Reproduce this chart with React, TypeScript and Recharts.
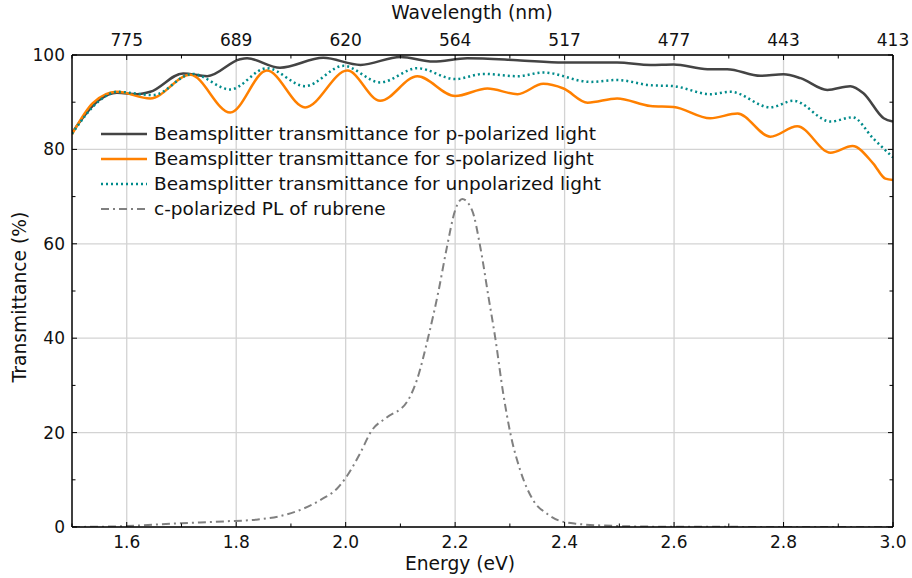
import React from 'react';
import { LineChart, Line, XAxis, YAxis, CartesianGrid, Legend } from 'recharts';

// Beamsplitter transmittance, p-polarized (energy in eV, transmittance in %)
const pEnergy = [1.5, 1.549, 1.582, 1.619, 1.643, 1.703, 1.747, 1.807, 1.82, 1.88, 1.959, 2.027, 2.1, 2.16, 2.222, 2.314, 2.398, 2.496, 2.557, 2.599, 2.661, 2.697, 2.758, 2.8, 2.831, 2.88, 2.922, 2.946, 2.983, 3.0];
const pValues = [83.5, 90.4, 92.0, 91.7, 92.2, 96.1, 95.5, 99.1, 99.3, 97.3, 99.4, 97.9, 99.6, 98.6, 99.3, 98.9, 98.4, 98.4, 97.9, 98.0, 97.0, 97.0, 95.6, 95.9, 95.1, 92.6, 93.4, 91.9, 86.6, 85.9];

// s-polarized
const sEnergy = [1.5, 1.538, 1.582, 1.643, 1.716, 1.789, 1.856, 1.926, 2.003, 2.063, 2.131, 2.2, 2.259, 2.314, 2.361, 2.398, 2.442, 2.496, 2.557, 2.599, 2.666, 2.716, 2.776, 2.825, 2.886, 2.926, 2.964, 2.986, 3.0];
const sValues = [83.2, 89.8, 92.2, 90.8, 95.8, 87.8, 96.7, 88.9, 96.7, 90.3, 95.5, 91.3, 92.9, 91.7, 93.9, 92.9, 89.9, 90.8, 89.2, 89.0, 86.6, 87.6, 82.7, 84.9, 79.3, 80.7, 77.0, 73.8, 73.5];

// unpolarized
const uEnergy = [1.5, 1.549, 1.582, 1.648, 1.72, 1.789, 1.856, 1.926, 1.996, 2.063, 2.131, 2.2, 2.252, 2.314, 2.361, 2.447, 2.496, 2.557, 2.599, 2.666, 2.703, 2.776, 2.818, 2.886, 2.926, 2.964, 3.0];
const uValues = [83.3, 90.2, 92.2, 91.5, 96.0, 92.7, 97.2, 93.4, 97.7, 94.2, 97.2, 94.9, 96.0, 95.5, 96.3, 94.3, 94.7, 93.6, 93.4, 91.7, 92.2, 88.9, 90.3, 85.9, 86.8, 82.3, 78.3];

// c-polarized PL of rubrene
const plEnergy = [1.5, 1.6, 1.7, 1.78, 1.84, 1.88, 1.923, 1.955, 1.984, 2.0, 2.025, 2.048, 2.075, 2.112, 2.13, 2.151, 2.17, 2.185, 2.2, 2.213, 2.231, 2.246, 2.261, 2.273, 2.288, 2.301, 2.319, 2.343, 2.368, 2.389, 2.42, 2.5, 2.6, 3.0];
const plValues = [0.0, 0.2, 0.8, 1.2, 1.6, 2.3, 3.9, 5.8, 8.1, 10.4, 15.3, 20.5, 23.2, 26.5, 31.1, 40.3, 50.2, 59.3, 67.1, 69.5, 67.1, 59.3, 48.7, 40.3, 28.2, 19.8, 12.0, 5.6, 2.8, 1.4, 0.7, 0.2, 0.05, 0.0];

const energyTicks = [1.5, 1.6, 1.7, 1.8, 1.9, 2.0, 2.1, 2.2, 2.3, 2.4, 2.5, 2.6, 2.7, 2.8, 2.9, 3.0];
const energyLabelTicks = [1.6, 1.8, 2.0, 2.2, 2.4, 2.6, 2.8, 3.0];
const wavelengthLabels = ['775', '689', '620', '564', '517', '477', '443', '413'];
const transTicks = [0, 10, 20, 30, 40, 50, 60, 70, 80, 90, 100];
const transLabelTicks = [0, 20, 40, 60, 80, 100];

const zip = (xs: number[], ys: number[]) => xs.map((e, i) => ({ e, t: ys[i] }));

const series = [
  { name: 'Beamsplitter transmittance for p-polarized light', data: zip(pEnergy, pValues), color: '#444444', dash: undefined, width: 2.5 },
  { name: 'Beamsplitter transmittance for s-polarized light', data: zip(sEnergy, sValues), color: '#ff8000', dash: undefined, width: 2.5 },
  { name: 'Beamsplitter transmittance for unpolarized light', data: zip(uEnergy, uValues), color: '#008b8b', dash: '2 3', width: 2.5 },
  { name: 'c-polarized PL of rubrene', data: zip(plEnergy, plValues), color: '#808080', dash: '8 4 2 4', width: 2 },
];

const W = 912;
const H = 578;
const margin = { top: 25, right: 18, bottom: 21, left: 32 };
const AXIS_H = 30;
const AXIS_W = 40;
const PLOT_W = W - margin.left - margin.right - AXIS_W - 1;
const PLOT_H = H - margin.top - margin.bottom - 2 * AXIS_H;
const FONT = '"DejaVu Sans", Verdana, sans-serif';

const isMajor = (v: number, list: number[]) => list.some((m) => Math.abs(m - v) < 1e-6);

// bottom energy axis: inward ticks on bottom and top spines, labels on majors
const EnergyTick = (props: any) => {
  const { x, y, payload } = props;
  const v = payload.value as number;
  const major = isMajor(v, energyLabelTicks);
  const len = major ? 5 : 3.5;
  return (
    <g>
      <line x1={x} x2={x} y1={y} y2={y - len} stroke="#000" strokeWidth={1} />
      <line x1={x} x2={x} y1={y - PLOT_H} y2={y - PLOT_H + len} stroke="#000" strokeWidth={1} />
      {major && (
        <text x={x} y={y + 21} textAnchor="middle" fontSize={17} fontFamily={FONT} fill="#111">
          {v.toFixed(1)}
        </text>
      )}
    </g>
  );
};

const WavelengthTick = (props: any) => {
  const { x, y, payload } = props;
  const idx = energyLabelTicks.findIndex((m) => Math.abs(m - payload.value) < 1e-6);
  if (idx < 0) return null;
  return (
    <text x={x} y={y - 9} textAnchor="middle" fontSize={17} fontFamily={FONT} fill="#111">
      {wavelengthLabels[idx]}
    </text>
  );
};

// left transmittance axis: inward ticks on left and right spines
const TransTick = (props: any) => {
  const { x, y, payload } = props;
  const v = payload.value as number;
  const major = isMajor(v, transLabelTicks);
  const len = major ? 5 : 3.5;
  return (
    <g>
      <line x1={x} x2={x + len} y1={y} y2={y} stroke="#000" strokeWidth={1} />
      <line x1={x + PLOT_W} x2={x + PLOT_W - len} y1={y} y2={y} stroke="#000" strokeWidth={1} />
      {major && (
        <text x={x - 7} y={y + 6} textAnchor="end" fontSize={17} fontFamily={FONT} fill="#111">
          {v}
        </text>
      )}
    </g>
  );
};

const LegendBox = () => (
  <div style={{ fontFamily: FONT, fontSize: 18.5, color: '#111', lineHeight: '25px' }}>
    {series.map((s) => (
      <div key={s.name} style={{ display: 'flex', alignItems: 'center', whiteSpace: 'nowrap' }}>
        <svg width={46} height={10} style={{ marginRight: 7 }}>
          <line x1={0} x2={46} y1={5} y2={5} stroke={s.color} strokeWidth={s.width} strokeDasharray={s.dash} />
        </svg>
        <span>{s.name}</span>
      </div>
    ))}
  </div>
);

const titleStyle: React.CSSProperties = {
  position: 'absolute',
  fontFamily: FONT,
  fontSize: 18.7,
  color: '#111',
  whiteSpace: 'nowrap',
  transform: 'translate(-50%, -50%)',
};

const App = () => {
  return (
    <div style={{ position: 'absolute', left: 0, top: 0, width: W, height: H, background: '#fff' }}>
      <LineChart width={W} height={H} margin={margin}>
        <CartesianGrid
          stroke="#d3d3d3"
          strokeWidth={1.3}
          verticalValues={energyLabelTicks}
          horizontalValues={transLabelTicks}
        />
        <XAxis
          dataKey="e"
          type="number"
          domain={[1.5, 3.0]}
          allowDataOverflow
          ticks={energyTicks}
          interval={0}
          height={AXIS_H}
          tickSize={0}
          tickMargin={0}
          tickLine={false}
          tick={<EnergyTick />}
          axisLine={{ stroke: '#000', strokeWidth: 1.5 }}
        />
        <XAxis
          xAxisId="top"
          orientation="top"
          dataKey="e"
          type="number"
          domain={[1.5, 3.0]}
          allowDataOverflow
          ticks={energyLabelTicks}
          interval={0}
          height={AXIS_H}
          tickSize={0}
          tickMargin={0}
          tickLine={false}
          tick={<WavelengthTick />}
          axisLine={{ stroke: '#000', strokeWidth: 1.5 }}
        />
        <YAxis
          type="number"
          domain={[0, 100]}
          allowDataOverflow
          ticks={transTicks}
          interval={0}
          width={AXIS_W}
          tickSize={0}
          tickMargin={0}
          tickLine={false}
          tick={<TransTick />}
          axisLine={{ stroke: '#000', strokeWidth: 1.5 }}
        />
        <YAxis
          yAxisId="right"
          orientation="right"
          type="number"
          domain={[0, 100]}
          width={1}
          tick={false}
          tickLine={false}
          axisLine={{ stroke: '#000', strokeWidth: 1.5 }}
        />
        {series.map((s) => (
          <Line
            key={s.name}
            data={s.data}
            dataKey="t"
            name={s.name}
            type="monotone"
            stroke={s.color}
            strokeWidth={s.width}
            strokeDasharray={s.dash}
            dot={false}
            activeDot={false}
            isAnimationActive={false}
          />
        ))}
        <Legend
          layout="vertical"
          align="center"
          verticalAlign="middle"
          content={<LegendBox />}
          wrapperStyle={{ left: 101, top: 121, width: 'auto' }}
        />
      </LineChart>
      <div style={{ ...titleStyle, left: 472, top: 12 }}>Wavelength (nm)</div>
      <div style={{ ...titleStyle, left: 460, top: 563 }}>Energy (eV)</div>
      <div style={{ ...titleStyle, left: 19, top: 297, transform: 'translate(-50%, -50%) rotate(-90deg)' }}>
        Transmittance (%)
      </div>
    </div>
  );
};

export default App;
